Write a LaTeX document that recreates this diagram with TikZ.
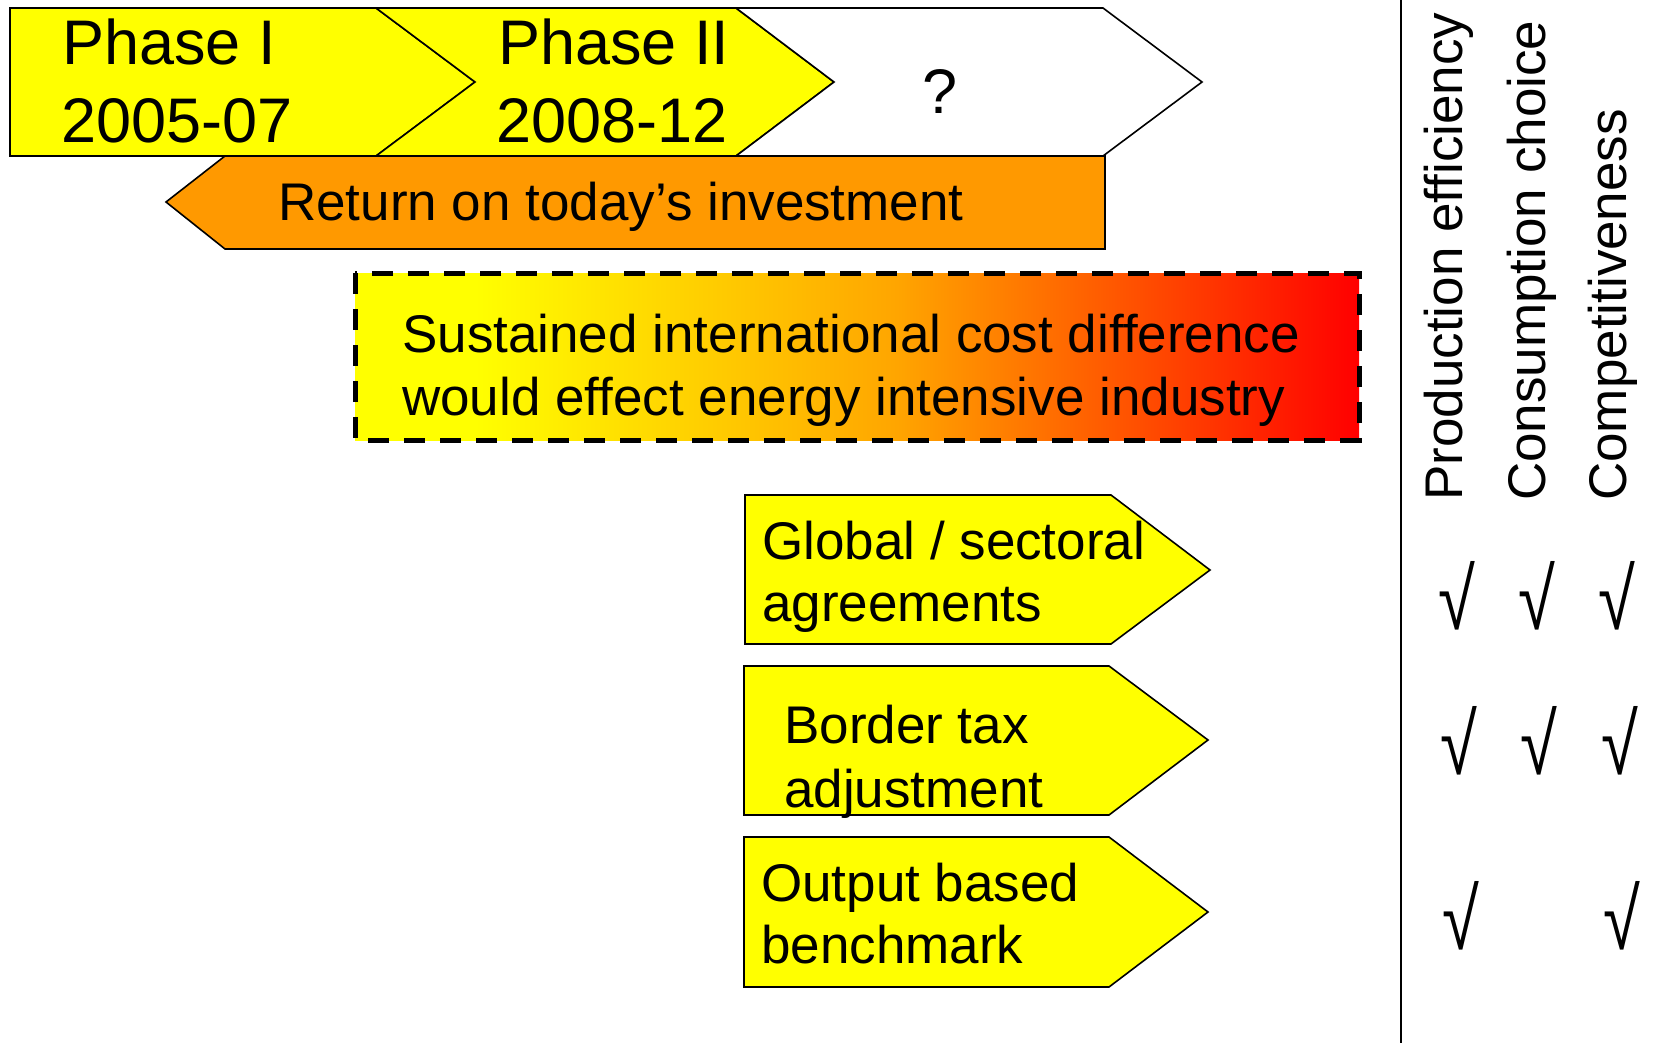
\documentclass[tikz,border=0pt]{standalone}
\usepackage{fontspec}
\setmainfont{Liberation Sans}
\definecolor{phaseyellow}{RGB}{255,255,0}
\definecolor{returnorange}{RGB}{255,153,0}
\definecolor{gradyellow}{RGB}{255,255,0}
\definecolor{gradmid}{RGB}{255,165,0}
\definecolor{gradred}{RGB}{255,0,0}
\pgfdeclarehorizontalshading{costgrad}{100bp}{color(0bp)=(gradyellow); color(31bp)=(gradyellow); color(52bp)=(gradmid); color(75bp)=(gradred); color(100bp)=(gradred)}
\begin{document}
\begin{tikzpicture}[x=1pt,y=-1pt,line join=miter]
\tikzset{
  shapeline/.style={draw=black, line width=1.6pt},
  bigtxt/.style={font=\fontsize{63}{77}\selectfont, inner sep=0pt, anchor=base west},
  bodytxt/.style={font=\fontsize{53}{62}\selectfont, inner sep=0pt, anchor=base west},
  coltxt/.style={font=\fontsize{53}{62}\selectfont, inner sep=0pt, anchor=base west, rotate=90},
  checktxt/.style={font=\fontsize{86}{90}\selectfont, inner sep=0pt, anchor=center},
  dashbox/.style={draw=black, line width=5pt, dash pattern=on 21pt off 15pt},
}
\useasboundingbox (0,0) rectangle (1659,1043);

% phase chevrons
\draw[shapeline, fill=phaseyellow] (10,8) -- (376,8) -- (475,82) -- (376,156) -- (10,156) -- cycle;
\draw[shapeline, fill=phaseyellow] (376,8) -- (736,8) -- (834,82) -- (736,156) -- (376,156) -- (475,82) -- cycle;
\draw[shapeline, fill=white] (736,8) -- (1103,8) -- (1202,82) -- (1103,156) -- (736,156) -- (834,82) -- cycle;

\node[bigtxt] (p1a) at (62,65) {Phase I};
\node[bigtxt] (p1b) at (61,143) {2005-07};
\node[bigtxt] (p2a) at (498,65) {Phase II};
\node[bigtxt] (p2b) at (496,143) {2008-12};
\node[bigtxt, anchor=base] (p3) at (940,114) {?};

% return arrow
\draw[shapeline, fill=returnorange] (225,156) -- (1105,156) -- (1105,249) -- (225,249) -- (166,202) -- cycle;
\node[bodytxt] (ret) at (278,220) {Return on today’s investment};

% gradient box
\path[shading=costgrad] (355,273) rectangle (1359,440);
\draw[dashbox] (355,273) rectangle (1359,440);
\node[bodytxt] (cost1) at (402,352) {Sustained international cost difference};
\node[bodytxt] (cost2) at (402,415) {would effect energy intensive industry};

% measure arrows
\draw[shapeline, fill=phaseyellow] (745,495) -- (1111,495) -- (1210,570) -- (1111,644) -- (745,644) -- cycle;
\draw[shapeline, fill=phaseyellow] (744,666) -- (1109,666) -- (1208,740) -- (1109,815) -- (744,815) -- cycle;
\draw[shapeline, fill=phaseyellow] (744,837) -- (1109,837) -- (1208,912) -- (1109,987) -- (744,987) -- cycle;

\node[bodytxt] (g1) at (762,559) {Global / sectoral};
\node[bodytxt] (g2) at (762,621) {agreements};
\node[bodytxt] (b1) at (784,743) {Border tax};
\node[bodytxt] (b2) at (784,807) {adjustment};
\node[bodytxt] (o1) at (761,901) {Output based};
\node[bodytxt] (o2) at (761,963) {benchmark};

% divider
\coordinate (divtop) at (1401,0);
\coordinate (divbot) at (1401,1043);
\draw[line width=2pt] (divtop) -- (divbot);

% column headings
\node[coltxt] (h1) at (1462,501) {Production efficiency};
\node[coltxt] (h2) at (1545,501) {Consumption choice};
\node[coltxt] (h3) at (1626,501) {Competitiveness};

% check marks
\node[checktxt] (c11) at (1457,596) {\scalebox{0.78}[1]{√}};
\node[checktxt] (c12) at (1537,596) {\scalebox{0.78}[1]{√}};
\node[checktxt] (c13) at (1617,596) {\scalebox{0.78}[1]{√}};
\node[checktxt] (c21) at (1459,741) {\scalebox{0.78}[1]{√}};
\node[checktxt] (c22) at (1539,741) {\scalebox{0.78}[1]{√}};
\node[checktxt] (c23) at (1620,741) {\scalebox{0.78}[1]{√}};
\node[checktxt] (c31) at (1461,916) {\scalebox{0.78}[1]{√}};
\node[checktxt] (c33) at (1622,916) {\scalebox{0.78}[1]{√}};
\end{tikzpicture}
\end{document}
